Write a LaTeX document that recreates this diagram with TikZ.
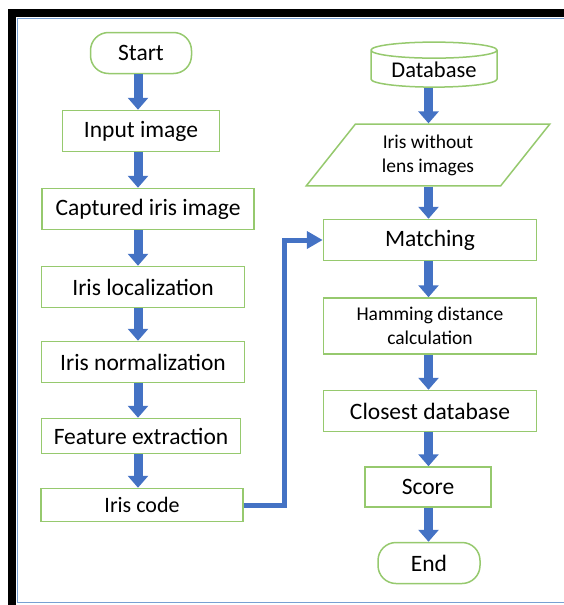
\documentclass[tikz,border=0pt]{standalone}
\usepackage{fontspec}
\setmainfont{Carlito}
\usetikzlibrary{arrows.meta,shapes.geometric}

\definecolor{boxgreen}{RGB}{150,201,110}
\definecolor{flowblue}{RGB}{68,114,196}
\definecolor{frameblue}{RGB}{120,160,210}

\tikzset{
  box/.style={draw=boxgreen, line width=1.5pt, fill=white, minimum height=41pt,
    inner sep=2pt, align=center, font=\fontsize{23.5}{28}\selectfont},
  terminal/.style={box, rounded corners=18pt, minimum width=101pt},
  smalltext/.style={font=\fontsize{19.5}{24}\selectfont},
  blk/.style={flowblue, line width=9pt, -{Triangle[length=12pt,width=20pt]}},
  link/.style={flowblue, line width=5pt, -{Triangle[length=16pt,width=17pt]}},
}

\begin{document}
\begin{tikzpicture}[x=1pt,y=-1pt]
\useasboundingbox (0,0) rectangle (564,605);
\fill (8,9) rectangle (564,17);
\fill (8,9) rectangle (16,605);
\draw[frameblue] (564,18) -- (17,18) -- (17,602) -- (564,602);

\coordinate (lx) at (138,0);
\coordinate (rx) at (428.5,0);

\node[terminal] (start) at (141,53) {Start};
\node[box, minimum width=157pt] (input) at (141,131) {Input image};
\node[box, minimum width=212pt] (captured) at (148,209) {Captured iris image};
\node[box, minimum width=203pt] (local) at (143,287) {Iris localization};
\node[box, minimum width=203pt] (norm) at (143,362) {Iris normalization};
\node[box, minimum width=199pt, minimum height=35pt] (feature) at (141,436) {Feature extraction};
\node[box, minimum width=202pt, minimum height=33pt, font=\fontsize{22}{26}\selectfont] (code) at (142,505) {Iris code};

\node[box, cylinder, shape border rotate=90, aspect=0.18, minimum width=126pt,
  minimum height=45pt, font=\fontsize{22.5}{26}\selectfont] (db) at (434,70) {Database};
\node[box, smalltext, trapezium, trapezium left angle=51.5, trapezium right angle=128.5,
  inner ysep=0pt, minimum width=244pt, minimum height=57pt] (lens) at (428,155) {Iris without\\lens images};
\node[box, minimum width=213pt] (match) at (430,240) {Matching};
\node[box, smalltext, minimum width=213pt, minimum height=56pt] (hamming) at (430,326) {Hamming distance\\calculation};
\node[box, minimum width=213pt] (closest) at (430,411) {Closest database};
\node[box, minimum width=126pt, minimum height=40pt] (score) at (428,487) {Score};
\node[terminal, minimum width=102pt] (end) at (429,563) {End};

\foreach \a/\b in {start/input,input/captured,captured/local,local/norm,norm/feature,feature/code}
  \draw[blk] (\a.south -| lx) -- (\b.north -| lx);
\foreach \a/\b in {db/lens,lens/match,match/hamming,hamming/closest,closest/score,score/end}
  \draw[blk] (\a.south -| rx) -- (\b.north -| rx);

\draw[link] (code.east) -- ++(41,0) |- (match.west);
\end{tikzpicture}
\end{document}
